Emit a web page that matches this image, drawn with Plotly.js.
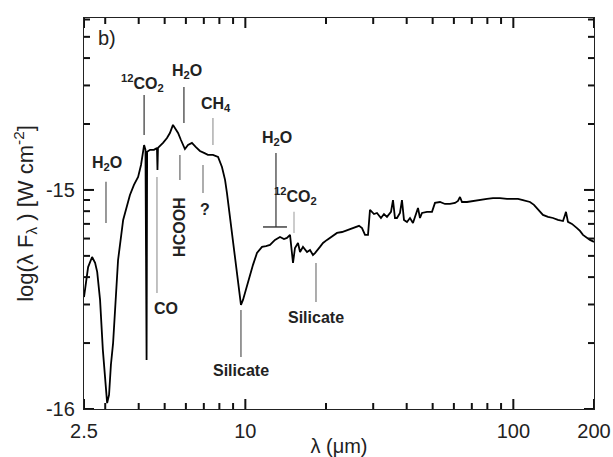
<!DOCTYPE html>
<html>
<head>
<meta charset="utf-8">
<script src="https://cdn.plot.ly/plotly-3.0.1.min.js"></script>
<style>html,body{margin:0;padding:0;background:#fff;}#chart{width:613px;height:457px;}</style>
</head>
<body>
<div id="chart"></div>
<script>
// Spectrum: wavelength (micron) and log(lambda F_lambda) [W cm^-2]
const wavelength = [2.50,2.59,2.68,2.75,2.80,2.87,2.94,3.00,3.05,3.10,3.15,3.21,3.29,3.35,3.50,3.62,3.71,3.84,3.98,4.08,4.15,4.19,4.24,4.26,4.28,4.30,4.41,4.56,4.68,4.70,4.72,4.93,5.10,5.23,5.37,5.46,5.61,5.75,5.95,6.11,6.32,6.54,6.77,7.01,7.25,7.57,7.91,8.18,8.40,8.54,8.76,8.99,9.31,9.55,9.63,9.80,9.97,10.41,10.68,11.05,11.54,11.94,12.36,12.90,13.47,13.94,14.30,14.68,14.93,15.06,15.32,15.72,16.00,16.41,16.99,17.43,17.88,18.19,18.99,19.49,20.17,21.05,21.98,22.95,23.95,24.79,25.66,26.56,27.25,27.96,28.69,29.18,30.20,30.99,32.07,32.91,33.77,34.95,35.56,36.17,36.80,37.76,38.41,39.08,40.10,41.15,42.22,43.33,44.08,44.84,45.62,47.62,49.72,51.01,53.25,55.59,58.03,60.58,62.16,63.24,64.33,67.15,70.70,75.08,79.72,83.95,89.15,94.68,99.70,104.1,108.6,112.4,115.4,119.4,122.5,125.8,129.0,134.7,140.6,146.7,153.2,155.9,157.2,159.9,165.5,172.8,177.3,181.9,188.3,193.2,200.0];
const logFlux = [-15.489,-15.352,-15.306,-15.333,-15.374,-15.502,-15.731,-15.890,-15.973,-15.936,-15.799,-15.699,-15.457,-15.320,-15.137,-15.068,-15.023,-14.977,-14.941,-14.886,-14.831,-14.795,-14.817,-15.776,-15.776,-14.826,-14.817,-14.817,-14.808,-14.909,-14.808,-14.785,-14.763,-14.740,-14.703,-14.717,-14.740,-14.772,-14.813,-14.795,-14.785,-14.804,-14.822,-14.831,-14.840,-14.840,-14.849,-14.895,-14.954,-15.014,-15.123,-15.242,-15.379,-15.489,-15.525,-15.502,-15.470,-15.379,-15.342,-15.288,-15.260,-15.256,-15.251,-15.228,-15.215,-15.224,-15.219,-15.205,-15.274,-15.333,-15.265,-15.242,-15.283,-15.260,-15.283,-15.274,-15.297,-15.288,-15.260,-15.242,-15.228,-15.210,-15.196,-15.192,-15.183,-15.178,-15.169,-15.164,-15.174,-15.205,-15.205,-15.091,-15.110,-15.105,-15.128,-15.110,-15.123,-15.100,-15.046,-15.128,-15.128,-15.105,-15.046,-15.137,-15.146,-15.128,-15.151,-15.114,-15.082,-15.128,-15.105,-15.100,-15.100,-15.059,-15.055,-15.064,-15.064,-15.059,-15.050,-15.032,-15.055,-15.055,-15.050,-15.046,-15.041,-15.037,-15.037,-15.041,-15.041,-15.041,-15.046,-15.050,-15.055,-15.068,-15.082,-15.100,-15.114,-15.123,-15.128,-15.137,-15.142,-15.114,-15.100,-15.146,-15.155,-15.174,-15.187,-15.205,-15.219,-15.228,-15.237];

// Axis ticks
const xMajorTicks = [2.5, 10, 100, 200];
const xMajorLabels = ["2.5", "10", "100", "200"];
const xMinorTicks = [3,4,5,6,7,8,9,20,30,40,50,60,70,80,90];
const yMajorTicks = [-16, -15];
const yMajorLabels = ["-16", "-15"];
const yMinorFactors = [2,3,4,5,6,7,8,9];

// Feature labels: name, wavelength, log flux of text, marker line
const featureNames = ["H<sub>2</sub>O", "<sup>12</sup>CO<sub>2</sub>", "H<sub>2</sub>O", "CH<sub>4</sub>", "HCOOH", "?", "CO", "Silicate", "H<sub>2</sub>O", "<sup>12</sup>CO<sub>2</sub>", "Silicate"];
const featureTextX = [3.05, 4.15, 6.06, 7.77, 5.70, 7.07, 5.06, 9.63, 13.12, 15.45, 18.4];
const featureTextY = [-14.881, -14.511, -14.461, -14.612, -15.169, -15.091, -15.539, -15.822, -14.767, -15.027, -15.584];
const featureAngle = [0,0,0,0,-90,0,0,0,0,0,0];
const featureLineX = [3.02, 4.19, 5.90, 7.57, 5.70, 6.95, 4.68, 9.63, 13.01, 15.19, 18.35];
const featureLineY0 = [-14.963, -14.566, -14.530, -14.671, -14.840, -14.886, -14.941, -15.548, -14.831, -15.100, -15.333];
const featureLineY1 = [-15.151, -14.749, -14.694, -14.795, -14.954, -15.014, -15.470, -15.763, -15.169, -15.196, -15.511];
const featureLineColor = ["#555","#333","#333","#999","#666","#777","#999","#555","#333","#aaa","#777"];

const yMinorTicks = [];
[-16, -15].forEach(b => yMinorFactors.forEach(k => { const v = b + Math.log10(k); if (v < -14.22) yMinorTicks.push(v); }));

const xRange = [Math.log10(2.5), Math.log10(200)];
const yRange = [-16, -14.215];
const M = {l: 84, r: 19, t: 18, b: 48};
const plotW = 613 - M.l - M.r, plotH = 457 - M.t - M.b;

const traces = [{
  x: wavelength, y: logFlux, type: 'scatter', mode: 'lines',
  line: {color: '#000', width: 1.8}, hoverinfo: 'skip', showlegend: false
}];
featureLineX.forEach((lx, i) => {
  traces.push({x: [lx, lx], y: [featureLineY0[i], featureLineY1[i]], type: 'scatter', mode: 'lines',
    line: {color: featureLineColor[i], width: 1.2}, hoverinfo: 'skip', showlegend: false});
});
// horizontal bar of the right H2O marker
traces.push({x: [11.64, 14.30], y: [-15.169, -15.169], type: 'scatter', mode: 'lines',
  line: {color: '#333', width: 1.4}, hoverinfo: 'skip', showlegend: false});

// tick marks (inside, on all four sides), one small line trace per tick
const yPerPx = (yRange[1] - yRange[0]) / plotH;
const xDecPerPx = (xRange[1] - xRange[0]) / plotW;
const tickLine = {color: '#111', width: 2};
function seg(xs, ys) {
  traces.push({x: xs, y: ys, type: 'scatter', mode: 'lines', line: tickLine,
    hoverinfo: 'skip', showlegend: false, cliponaxis: false});
}
function addX(v, len) {
  const d = len * yPerPx;
  seg([v, v], [yRange[0], yRange[0] + d]);
  seg([v, v], [yRange[1], yRange[1] - d]);
}
function addY(v, len) {
  const d = len * xDecPerPx;
  seg([Math.pow(10, xRange[0]), Math.pow(10, xRange[0] + d)], [v, v]);
  seg([Math.pow(10, xRange[1]), Math.pow(10, xRange[1] - d)], [v, v]);
}
xMajorTicks.forEach(v => addX(v, 10));
xMinorTicks.forEach(v => addX(v, 6));
yMajorTicks.forEach(v => addY(v, 10));
yMinorTicks.forEach(v => addY(v, 6));

const font = "'Liberation Sans', Arial, sans-serif";
const annotations = featureNames.map((t, i) => ({
  x: Math.log10(featureTextX[i]), y: featureTextY[i], xref: 'x', yref: 'y',
  text: '<b>' + t + '</b>', showarrow: false, textangle: featureAngle[i],
  xanchor: 'center', yanchor: 'middle',
  font: {family: font, size: 16, color: '#222'}
}));
annotations.push({x: 0.045, y: 0.949, xref: 'paper', yref: 'paper', text: 'b)', showarrow: false,
  xanchor: 'center', yanchor: 'middle', font: {family: font, size: 20, color: '#222'}});

const layout = {
  width: 613, height: 457,
  margin: M,
  paper_bgcolor: '#fff', plot_bgcolor: '#fff',
  font: {family: font, color: '#222'},
  showlegend: false,
  xaxis: {
    type: 'log', range: xRange,
    tickmode: 'array', tickvals: xMajorTicks, ticktext: xMajorLabels,
    ticks: '', ticklabelstandoff: 4,
    showline: true, linecolor: '#222', linewidth: 1.2, mirror: true,
    showgrid: false, zeroline: false,
    tickfont: {family: font, size: 20, color: '#222'},
    title: {text: 'λ (μm)', font: {family: font, size: 20, color: '#222'}, standoff: 2}
  },
  yaxis: {
    range: yRange,
    tickmode: 'array', tickvals: yMajorTicks, ticktext: yMajorLabels,
    ticks: '', ticklabelstandoff: 4,
    showline: true, linecolor: '#222', linewidth: 1.2, mirror: true,
    showgrid: false, zeroline: false,
    tickfont: {family: font, size: 20, color: '#222'},
    title: {text: 'log(λ F<sub>λ</sub> ) [W cm<sup>-2</sup>]', font: {family: font, size: 22, color: '#222'}, standoff: 6}
  },
  annotations: annotations
};

Plotly.newPlot('chart', traces, layout, {staticPlot: true, displayModeBar: false});
</script>
</body>
</html>
